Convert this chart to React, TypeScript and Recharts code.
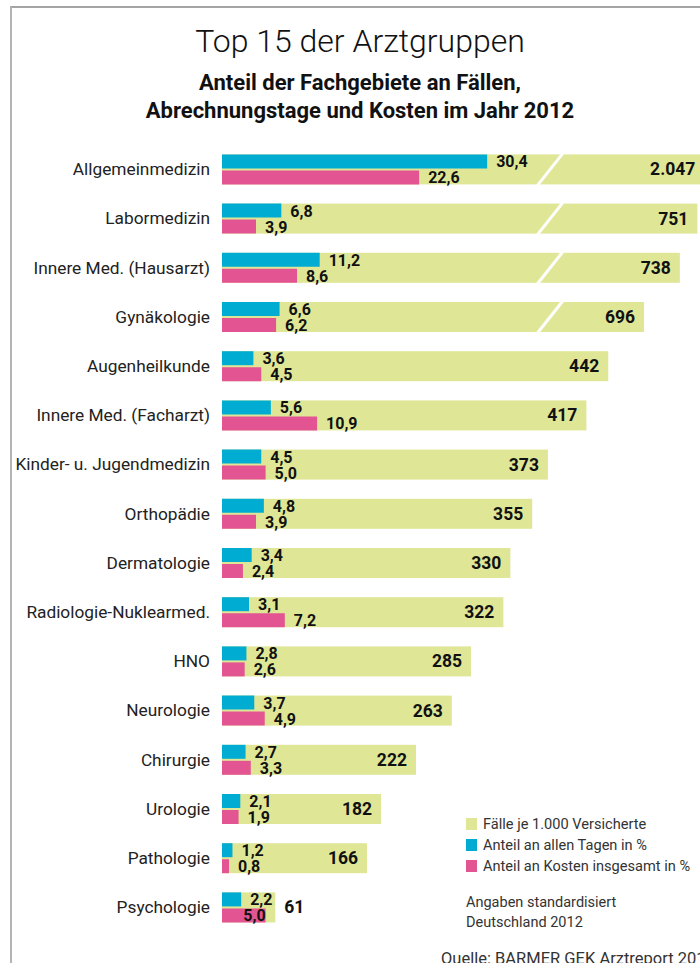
import React from 'react';
import { ComposedChart, Bar, XAxis, YAxis, LabelList, Legend } from 'recharts';

const fachgebiete = [
    'Allgemeinmedizin',
    'Labormedizin',
    'Innere Med. (Hausarzt)',
    'Gynäkologie',
    'Augenheilkunde',
    'Innere Med. (Facharzt)',
    'Kinder- u. Jugendmedizin',
    'Orthopädie',
    'Dermatologie',
    'Radiologie-Nuklearmed.',
    'HNO',
    'Neurologie',
    'Chirurgie',
    'Urologie',
    'Pathologie',
    'Psychologie',
];
// Fälle je 1.000 Versicherte
const faelle = [2047, 751, 738, 696, 442, 417, 373, 355, 330, 322, 285, 263, 222, 182, 166, 61];
// gezeichnete Länge der Balken mit Achsenbruch
const faelleGekuerzt: (number | null)[] = [552, 544, 524, 483, null, null, null, null, null, null, null, null, null, null, null, null];
// Anteil an allen Tagen in %
const anteilTage = [30.4, 6.8, 11.2, 6.6, 3.6, 5.6, 4.5, 4.8, 3.4, 3.1, 2.8, 3.7, 2.7, 2.1, 1.2, 2.2];
// Anteil an Kosten insgesamt in %
const anteilKosten = [22.6, 3.9, 8.6, 6.2, 4.5, 10.9, 5.0, 3.9, 2.4, 7.2, 2.6, 4.9, 3.3, 1.9, 0.8, 5.0];
const serienNamen = ['Fälle je 1.000 Versicherte', 'Anteil an allen Tagen in %', 'Anteil an Kosten insgesamt in %'];

const GRUEN = '#dfe797';
const BLAU = '#00acd1';
const PINK = '#e35592';
const FONT = 'Roboto, "Noto Sans", sans-serif';
const BRUCH_UNTEN = 361;
const BRUCH_OBEN = 390;

const rows = fachgebiete.map((name, i) => ({
    name,
    faelle: faelleGekuerzt[i] ?? faelle[i],
    tage: anteilTage[i],
    kosten: anteilKosten[i],
}));

const tausender = (v: number) => String(v).replace(/\B(?=(\d{3})+(?!\d))/g, '.');
const komma = (v: number) => v.toFixed(1).replace('.', ',');

const GruenBalken = (props: any) => {
    const { x, y, width, height, index } = props;
    const wert = rows[index].faelle;
    return (
        <g>
            <rect x={x} y={y} width={width} height={height} fill={GRUEN} />
            {faelleGekuerzt[index] != null && (
                <line
                    x1={x + (width * BRUCH_UNTEN) / wert}
                    y1={y + height + 1}
                    x2={x + (width * BRUCH_OBEN) / wert}
                    y2={y - 1}
                    stroke="#fff"
                    strokeWidth={3}
                />
            )}
        </g>
    );
};

const GruenLabel = (props: any) => {
    const vb = props.viewBox || props;
    const { x, y, width, height } = vb;
    const i = props.index;
    const aussen = width < 90;
    return (
        <text
            x={aussen ? x + width + 9 : x + width - 9}
            y={y + height / 2}
            textAnchor={aussen ? 'start' : 'end'}
            dominantBaseline="central"
            fontSize={17.5}
            fontWeight={700}
            fill="#111"
        >
            {tausender(faelle[i])}
        </text>
    );
};

const ProzentLabel = (props: any) => {
    const vb = props.viewBox || props;
    const { x, y, width, height } = vb;
    const i = props.index;
    // bei sehr kurzem Fälle-Balken steht die Zahl im Balken
    const innen = props.kosten && faelle[i] < 100;
    return (
        <text
            x={innen ? x + width : x + width + 9}
            y={y + height / 2 + 0.5}
            textAnchor={innen ? 'end' : 'start'}
            dominantBaseline="central"
            fontSize={16}
            fontWeight={700}
            fill="#111"
        >
            {komma(props.value)}
        </text>
    );
};

const LegendInhalt = (p: any) => {
    const items = [...(p.payload || [])].sort(
        (a: any, b: any) => serienNamen.indexOf(a.value) - serienNamen.indexOf(b.value)
    );
    return (
        <div>
            {items.map((e: any) => (
                <div key={e.value} style={{ display: 'flex', alignItems: 'center', height: 21, fontSize: 14.6, color: '#333' }}>
                    <span style={{ display: 'inline-block', width: 11, height: 12, background: e.color, marginRight: 6 }} />
                    {e.value}
                </div>
            ))}
        </div>
    );
};

const App: React.FC = () => {
    return (
        <div style={{ position: 'absolute', left: 0, top: 0, width: 700, height: 963, overflow: 'hidden', background: '#fff', fontFamily: FONT, color: '#111' }}>
            <div style={{ position: 'absolute', left: 10, top: 6, width: 720, height: 980, borderTop: '2px solid #a4a4a4', borderLeft: '2px solid #b4b4b4' }} />
            <div style={{ position: 'absolute', left: 10, width: 700, top: 21, textAlign: 'center', fontSize: 32, fontWeight: 300, lineHeight: '40px' }}>
                Top 15 der Arztgruppen
            </div>
            <div style={{ position: 'absolute', left: 10, width: 700, top: 69, textAlign: 'center', fontSize: 22, fontWeight: 700, lineHeight: '28px' }}>
                Anteil der Fachgebiete an Fällen,
                <br />
                Abrechnungstage und Kosten im Jahr 2012
            </div>
            <div style={{ position: 'absolute', left: 0, top: 0 }}>
                <ComposedChart
                    width={700}
                    height={963}
                    layout="vertical"
                    data={rows}
                    barGap={2}
                    margin={{ top: 144.4, right: 0, bottom: 31.4, left: 0 }}
                >
                    <XAxis xAxisId="g" type="number" domain={[0, 547]} allowDataOverflow hide />
                    <XAxis xAxisId="p" type="number" domain={[0, 54.8]} hide />
                    <YAxis
                        yAxisId="g"
                        type="category"
                        dataKey="name"
                        width={222}
                        axisLine={false}
                        tickLine={false}
                        tickSize={0}
                        tickMargin={12}
                        interval={0}
                        tick={{ fill: '#222', fontSize: 17.3 }}
                    />
                    <YAxis yAxisId="p" type="category" dataKey="name" hide />
                    <Bar
                        xAxisId="g"
                        yAxisId="g"
                        dataKey="faelle"
                        name={serienNamen[0]}
                        fill={GRUEN}
                        barSize={30}
                        shape={GruenBalken}
                        isAnimationActive={false}
                    >
                        <LabelList dataKey="faelle" content={GruenLabel} />
                    </Bar>
                    <Bar
                        xAxisId="p"
                        yAxisId="p"
                        dataKey="tage"
                        name={serienNamen[1]}
                        fill={BLAU}
                        barSize={14}
                        isAnimationActive={false}
                    >
                        <LabelList dataKey="tage" content={ProzentLabel} />
                    </Bar>
                    <Bar
                        xAxisId="p"
                        yAxisId="p"
                        dataKey="kosten"
                        name={serienNamen[2]}
                        fill={PINK}
                        barSize={14}
                        isAnimationActive={false}
                    >
                        <LabelList dataKey="kosten" content={(p: any) => <ProzentLabel {...p} kosten />} />
                    </Bar>
                    <Legend
                        layout="vertical"
                        align="center"
                        verticalAlign="middle"
                        wrapperStyle={{ left: 466, top: 813, width: 240 }}
                        content={LegendInhalt}
                    />
                </ComposedChart>
            </div>
            <div style={{ position: 'absolute', left: 466, top: 893, fontSize: 14.5, lineHeight: '20px', color: '#333' }}>
                Angaben standardisiert
                <br />
                Deutschland 2012
            </div>
            <div style={{ position: 'absolute', left: 441, top: 949, fontSize: 16.5, lineHeight: '20px', whiteSpace: 'nowrap', color: '#333' }}>
                Quelle: BARMER GEK Arztreport 2013
            </div>
        </div>
    );
};

export default App;
